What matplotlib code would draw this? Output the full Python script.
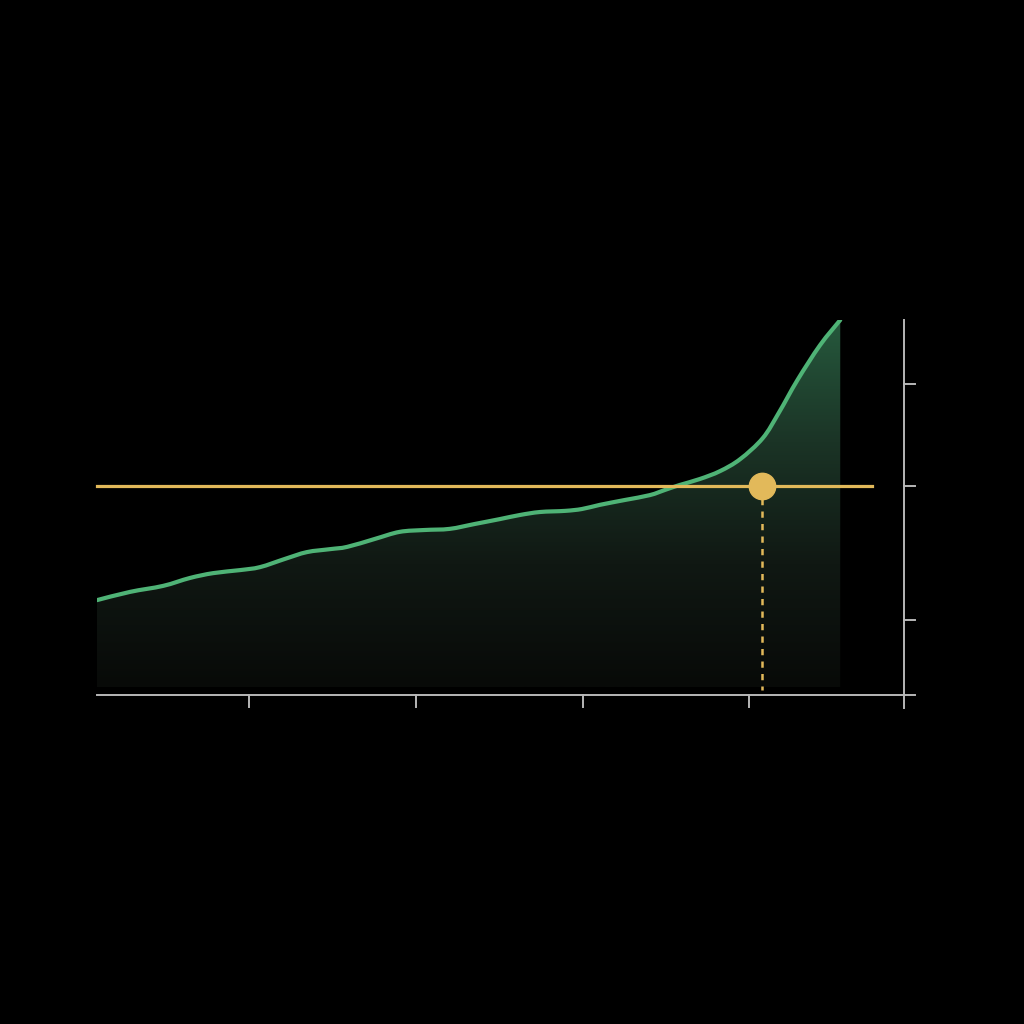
import numpy as np
import matplotlib
matplotlib.use("Agg")
import matplotlib.pyplot as plt
from matplotlib.colors import LinearSegmentedColormap
from matplotlib.patches import PathPatch
from matplotlib.path import Path

# ---- data (arbitrary units) ----
x_vals = [0, 4.1, 8.2, 11.5, 14.4, 17.7, 20.2, 23.3, 26.0, 28.9, 31.0, 34.4,
          37.5, 40.6, 43.7, 46.8, 49.9, 52.4, 54.9, 58.0, 60.1, 62.3, 65.4,
          68.5, 70.4, 72.2, 74.7, 77.2, 79.7, 82.5, 84.5, 86.8, 89.6, 92.1]
y_vals = [25.3, 27.5, 29.1, 31.2, 32.5, 33.3, 34.1, 36.3, 38.1, 38.9, 39.5,
          41.6, 43.5, 44.0, 44.3, 45.6, 46.9, 48.0, 48.8, 49.1, 49.6, 50.7,
          52.0, 53.3, 54.7, 56.0, 57.6, 59.7, 62.9, 68.5, 75.3, 84.0, 93.3,
          100.0]
threshold = 55.7
threshold_end = 96.0
marker_x = 82.4
x_ticks = [18.8, 39.5, 60.2, 80.8]
y_ticks = [20.0, 55.7, 83.0]

line_color = "#4fb376"
gold = "#e2b95a"
axis_color = "#b8b8b8"

fig = plt.figure(figsize=(10.24, 10.24), dpi=100, facecolor="black")
ax = fig.add_axes([97/1024, (1024-695)/1024, (904-97)/1024, (695-320)/1024])
ax.set_facecolor("black")
ax.set_xlim(0, 100)
ax.set_ylim(0, 100)
for s in ax.spines.values():
    s.set_visible(False)
ax.set_xticks([])
ax.set_yticks([])

xs = np.array(x_vals, dtype=float)
ys = np.array(y_vals, dtype=float)


def smooth_path_vertices(px, py):
    """Catmull-Rom -> cubic Bezier control points (drawing style only)."""
    pts = np.column_stack([px, py])
    verts = [pts[0]]
    codes = [Path.MOVETO]
    n = len(pts)
    for i in range(n - 1):
        p0 = pts[max(i - 1, 0)]
        p1 = pts[i]
        p2 = pts[i + 1]
        p3 = pts[min(i + 2, n - 1)]
        c1 = p1 + (p2 - p0) / 6.0
        c2 = p2 - (p3 - p1) / 6.0
        verts += [c1, c2, p2]
        codes += [Path.CURVE4] * 3
    return verts, codes


lv, lc = smooth_path_vertices(xs, ys)
line_path = Path(lv, lc)

# gradient fill under curve
fill_bottom = 2.0
fv = list(lv) + [(xs[-1], fill_bottom), (xs[0], fill_bottom), (xs[0], ys[0])]
fc = list(lc) + [Path.LINETO, Path.LINETO, Path.CLOSEPOLY]
fill_patch = PathPatch(Path(fv, fc), facecolor="none", edgecolor="none")
ax.add_patch(fill_patch)
cmap = LinearSegmentedColormap.from_list("g", ["#080a08", "#101813", "#1b3426", "#26593d"])
grad = np.linspace(0, 1, 256).reshape(-1, 1)
im = ax.imshow(grad, cmap=cmap, origin="lower", aspect="auto",
               extent=[xs[0], xs[-1], fill_bottom, ys.max()], zorder=1)
im.set_clip_path(fill_patch)

ax.add_patch(PathPatch(line_path, facecolor="none", edgecolor=line_color, lw=3.0,
                       capstyle="round", zorder=3))

# threshold line, marker, dashed drop
ax.plot([0, threshold_end], [threshold, threshold], color=gold, lw=2.3, zorder=4, clip_on=False)
ax.plot([marker_x, marker_x], [threshold, 1.3], color=gold, lw=1.8, ls=(0, (2.5, 2.5)), zorder=4)
ax.plot([marker_x], [threshold], "o", color=gold, ms=19, zorder=5)

# axes lines
ax.plot([0, 101.4], [0, 0], color=axis_color, lw=1.4, clip_on=False, zorder=6)
ax.plot([100, 100], [-3.5, 100], color=axis_color, lw=1.4, clip_on=False, zorder=6)
for t in x_ticks:
    ax.plot([t, t], [0, -3.3], color=axis_color, lw=1.4, clip_on=False, zorder=6)
for t in y_ticks:
    ax.plot([100, 101.4], [t, t], color=axis_color, lw=1.4, clip_on=False, zorder=6)

fig.savefig("out.png", dpi=100, facecolor="black")
